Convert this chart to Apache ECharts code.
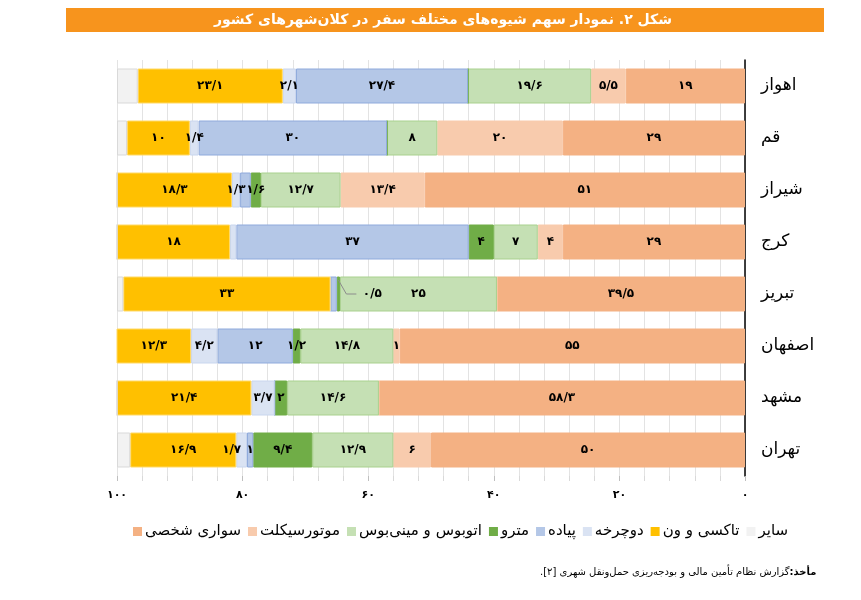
<!DOCTYPE html>
<html>
<head>
<meta charset="utf-8">
<script src="https://cdn.jsdelivr.net/npm/echarts@6/dist/echarts.min.js"></script>
<style>
html,body{margin:0;padding:0;background:#fff;}
#chart{width:861px;height:600px;direction:rtl;}
</style>
</head>
<body>
<div id="chart" dir="rtl"></div>
<script>
// ---- Data ----
const cities = ['اهواز','قم','شیراز','کرج','تبریز','اصفهان','مشهد','تهران'];
const seriesNames = ['سواری شخصی','موتورسیکلت','اتوبوس و مینی‌بوس','مترو','پیاده','دوچرخه','تاکسی و ون','سایر'];
const carValues   = [19, 29, 51, 29, 39.5, 55, 58.3, 50];
const motoValues  = [5.5, 20, 13.4, 4, 0, 1, 0, 6];
const busValues   = [19.6, 8, 12.7, 7, 25, 14.8, 14.6, 12.9];
const metroValues = [0, 0, 1.6, 4, 0.5, 1.2, 2, 9.4];
const walkValues  = [27.4, 30, 1.7, 37, 1, 12, 0, 1];
const bikeValues  = [2.1, 1.4, 1.3, 1, 0, 4.2, 3.7, 1.7];
const taxiValues  = [23.1, 10, 18.3, 18, 33, 12.3, 21.4, 16.9];
const otherValues = [3.3, 1.6, 0, 0, 1, 0, 0, 2.1];
const xTickValues = [0, 20, 40, 60, 80, 100];
// labels not printed in the original
const hiddenLabels = { 'پیاده': ['شیراز', 'تبریز'], 'دوچرخه': ['کرج'], 'سایر': cities };

const titleText = 'شکل ۲. نمودار سهم شیوه‌های مختلف سفر در کلان‌شهرهای کشور';
const sourceBold = 'مأخذ:';
const sourceText = 'گزارش نظام تأمین مالی و بودجه‌ریزی حمل‌ونقل شهری [۲].';

// ---- Styles ----
const colors  = ['#F4B183','#F8CBAD','#C5E0B4','#70AD47','#B4C7E7','#DAE3F3','#FFC000','#F2F2F2'];
const borders = ['#F4B183','#F8CBAD','#A9D18E','#70AD47','#8FAADC','#C9D6EE','#FFD966','#D9D9D9'];
const FONT = 'DejaVu Sans';

function fa(v){
  return String(v).replace('.', '/').replace(/[0-9]/g, d => '۰۱۲۳۴۵۶۷۸۹'[+d]);
}

const allValues = [carValues, motoValues, busValues, metroValues, walkValues, bikeValues, taxiValues, otherValues];
const LEADER_CITY = 'تبریز';
const LEADER_SERIES = 3; // metro

const series = seriesNames.map((name, si) => {
  const hidden = hiddenLabels[name] || [];
  return {
    name: name,
    type: 'bar',
    stack: 'total',
    barWidth: 35,
    itemStyle: { color: colors[si], borderColor: borders[si], borderWidth: 1 },
    label: {
      show: true, position: 'inside', color: '#000', fontFamily: FONT,
      fontSize: 12, fontWeight: 'bold',
      formatter: p => fa(p.value)
    },
    labelLayout: function (p) {
      if (si === LEADER_SERIES && cities[p.dataIndex] === LEADER_CITY) {
        return { dx: 34, hideOverlap: false };
      }
      if (name === 'دوچرخه' && cities[p.dataIndex] === 'تهران') {
        return { dx: -10 };
      }
      return {};
    },
    emphasis: { disabled: true },
    data: allValues[si].map((v, i) => {
      const show = v > 0 && hidden.indexOf(cities[i]) < 0;
      return { value: v, label: { show: show } };
    })
  };
});

const chart = echarts.init(document.getElementById('chart'), null, { renderer: 'canvas' });
const option = {
  animation: false,
  backgroundColor: '#fff',
  textStyle: { fontFamily: FONT },
  grid: { left: 117, right: 116, top: 60, bottom: 124, containLabel: false },
  xAxis: {
    type: 'value', inverse: true, min: 0, max: 100, interval: 20,
    axisLine: { show: false },
    axisTick: { show: true, length: 5, lineStyle: { color: '#bfbfbf' } },
    minorTick: { show: true, splitNumber: 5, length: 5, lineStyle: { color: '#d9d9d9' } },
    splitLine: { show: true, lineStyle: { color: '#e3e3e3', width: 1 } },
    minorSplitLine: { show: true, lineStyle: { color: '#e3e3e3', width: 1 } },
    axisLabel: {
      margin: 14, color: '#000', fontFamily: FONT, fontSize: 11, fontWeight: 'bold',
      formatter: v => xTickValues.indexOf(v) >= 0 ? fa(v) : ''
    }
  },
  yAxis: {
    type: 'category', inverse: true, position: 'right', data: cities,
    axisLine: { show: true, lineStyle: { color: '#000', width: 1.5 } },
    axisTick: { show: false },
    axisLabel: { margin: 16, color: '#000', fontFamily: FONT, fontSize: 17 }
  },
  legend: {
    data: seriesNames, left: 128, top: 519, icon: 'rect',
    itemWidth: 9, itemHeight: 9, itemGap: 7,
    itemStyle: { borderWidth: 0 },
    textStyle: { color: '#000', fontFamily: FONT, fontSize: 15, padding: [0, 0, 0, -2] },
    selectedMode: false
  },
  graphic: [
    { type: 'rect', left: 66, top: 8, shape: { width: 758, height: 24 }, style: { fill: '#F7941D' }, z: 10 },
    { type: 'text', x: 443, y: 20, z: 11,
      style: { text: titleText, fill: '#fff', font: 'bold 14px "' + FONT + '"', textAlign: 'center', textVerticalAlign: 'middle' } },
    { type: 'text', x: 820, y: 572, z: 11,
      style: {
        text: '{n|' + sourceText + '}{b| ' + sourceBold + '}',
        textAlign: 'right', textVerticalAlign: 'middle',
        rich: {
          n: { fontFamily: FONT, fontSize: 10, color: '#000' },
          b: { fontFamily: FONT, fontSize: 10, fontWeight: 'bold', color: '#000' }
        }
      } }
  ],
  series: series
};
chart.setOption(option);

// leader line for the small metro segment of Tabriz, positioned via the chart's scales
const ci = cities.indexOf(LEADER_CITY);
let base = 0;
for (let s = 0; s < LEADER_SERIES; s++) base += allValues[s][ci];
const mid = base + allValues[LEADER_SERIES][ci] / 2;
const p = chart.convertToPixel({ gridIndex: 0 }, [mid, LEADER_CITY]);
chart.setOption({
  graphic: option.graphic.concat([{
    type: 'polyline', z: 20, silent: true,
    shape: { points: [[p[0], p[1] - 14], [p[0] + 8, p[1]], [p[0] + 18, p[1]]] },
    style: { stroke: '#8c8c8c', lineWidth: 1, fill: null }
  }])
});
</script>
</body>
</html>
